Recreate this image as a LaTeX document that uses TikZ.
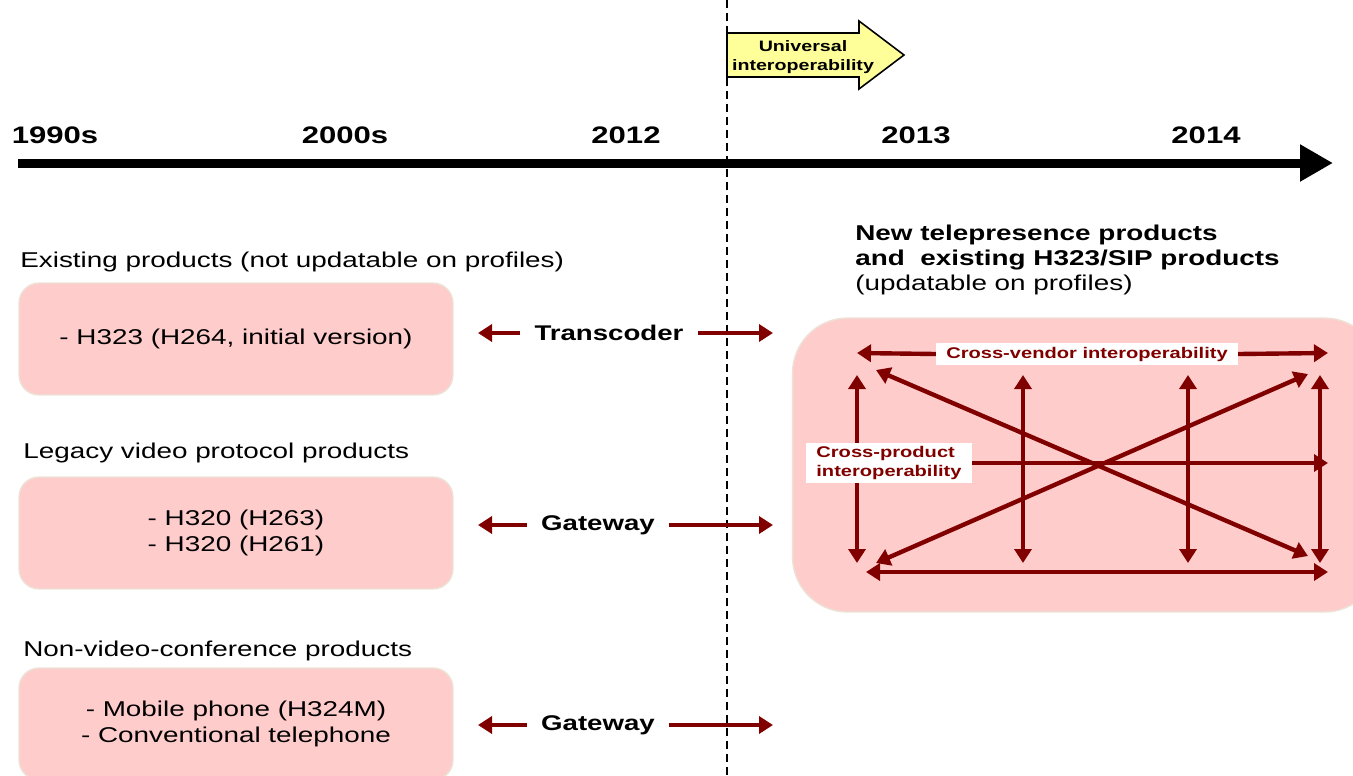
\documentclass[tikz,border=0pt]{standalone}
\usepackage{fontspec}
\setmainfont[FakeStretch=1.3]{Liberation Sans}
\usetikzlibrary{arrows.meta}
\definecolor{boxpink}{RGB}{255,204,204}
\definecolor{boxedge}{RGB}{236,226,214}
\definecolor{linkred}{RGB}{128,0,0}
\definecolor{noteyellow}{RGB}{255,255,153}
\tikzset{
    year/.style={font=\fontsize{13.6}{15}\selectfont\bfseries, anchor=base, inner sep=0pt},
    caption/.style={font=\fontsize{12.2}{14.2}\selectfont, anchor=base west, inner sep=0pt, align=left},
    prodbox/.style={draw=boxedge, fill=boxpink, line width=0.8pt, rounded corners=0.4cm, minimum width=8.68cm, minimum height=2.24cm, align=center, font=\fontsize{12.2}{14.8}\selectfont},
    conv/.style={font=\fontsize{12.1}{14}\selectfont\bfseries, inner xsep=0.28cm},
    link/.style={draw=linkred, line width=2.5pt, -{Triangle[length=2.8mm,width=3.4mm]}},
    both/.style={link, {Triangle[length=2.8mm,width=3.4mm]}-{Triangle[length=2.8mm,width=3.4mm]}},
    tag/.style={fill=white, text=linkred, font=\fontsize{8.8}{10.4}\selectfont\bfseries, align=left, inner xsep=0.2cm, inner ysep=0.07cm}
}

\begin{document}
\begin{tikzpicture}[x=0.02cm, y=-0.02cm]
    \useasboundingbox (0,0) rectangle (1353,775);

    % time axis
    \coordinate (t0) at (18,163);
    \coordinate (t1) at (1333,163);
    \draw[line width=0.18cm, -{Triangle[length=0.66cm,width=0.7cm]}] (t0) -- (t1);
    \node[year] (y1990) at (55,143) {1990s};
    \node[year] (y2000) at (345,143) {2000s};
    \node[year] (y2012) at (626,143) {2012};
    \node[year] (y2013) at (916,143) {2013};
    \node[year] (y2014) at (1206,143) {2014};

    % now
    \coordinate (now0) at (727,0);
    \coordinate (now1) at (727,775);
    \draw[line width=1.1pt, dash pattern=on 0.16cm off 0.1cm] (now0) -- (now1);
    \filldraw[fill=noteyellow, draw=black, line width=0.9pt]
        (727,33) -- (859,33) -- (859,21) -- (904,55) -- (859,89) -- (859,77) -- (727,77) -- cycle;
    \node[font=\fontsize{8.6}{10.6}\selectfont\bfseries, align=center] (univ) at (803,57) {Universal\\interoperability};

    % left hand products
    \node[caption] (cap1) at (20,267) {Existing products (not updatable on profiles)};
    \node[prodbox] (old) at (236,339) {- H323 (H264, initial version)};
    \node[caption] (cap2) at (23,458) {Legacy video protocol products};
    \node[prodbox] (legacy) at (236,533) {- H320 (H263)\\- H320 (H261)};
    \node[caption] (cap3) at (23,656) {Non-video-conference products};
    \node[prodbox] (phone) at (236,724) {- Mobile phone (H324M)\\- Conventional telephone};

    % converters
    \node[conv] (trans) at (609,333) {Transcoder};
    \coordinate (trans-l) at (478,333);
    \coordinate (trans-r) at (773,333);
    \draw[link] (trans.west) -- (trans-l);
    \draw[link] (trans.east) -- (trans-r);
    \node[conv] (gw1) at (598,525) {Gateway};
    \coordinate (gw1-l) at (478,525);
    \coordinate (gw1-r) at (773,525);
    \draw[link] (gw1.west) -- (gw1-l);
    \draw[link] (gw1.east) -- (gw1-r);
    \node[conv] (gw2) at (598,725) {Gateway};
    \coordinate (gw2-l) at (478,725);
    \coordinate (gw2-r) at (773,725);
    \draw[link] (gw2.west) -- (gw2-l);
    \draw[link] (gw2.east) -- (gw2-r);

    % new products
    \node[caption] (cap4) at (855,290) {\bfseries New telepresence products\\\bfseries and\ \ existing H323/SIP products\\(updatable on profiles)};
    \node[draw=boxedge, fill=boxpink, line width=0.8pt, rounded corners=1.1cm, minimum width=11.74cm, minimum height=5.88cm] (hub) at (1086,465) {};

    \node[tag] (vendor) at (1087,354) {Cross-vendor interoperability};
    \coordinate (v-l) at (857,353);
    \coordinate (v-r) at (1328,353);
    \draw[link] (vendor.west) -- (v-l);
    \draw[link] (vendor.east) -- (v-r);
    \coordinate (b-l) at (866,572);
    \coordinate (b-r) at (1328,572);
    \draw[both] (b-l) -- (b-r);
    \foreach \x [count=\i] in {857,1023,1188,1320} {
        \coordinate (up\i) at (\x,375);
        \coordinate (dn\i) at (\x,563);
        \draw[both] (up\i) -- (dn\i);
    }
    \coordinate (d1) at (876,370);
    \coordinate (d2) at (1308,556);
    \coordinate (d3) at (876,563);
    \coordinate (d4) at (1308,374);
    \draw[both] (d1) -- (d2);
    \draw[both] (d3) -- (d4);
    \node[tag] (product) at (889,463) {Cross-product\\interoperability};
    \coordinate (m-r) at (1328,463);
    \draw[link] (product.east) -- (m-r);
\end{tikzpicture}
\end{document}
